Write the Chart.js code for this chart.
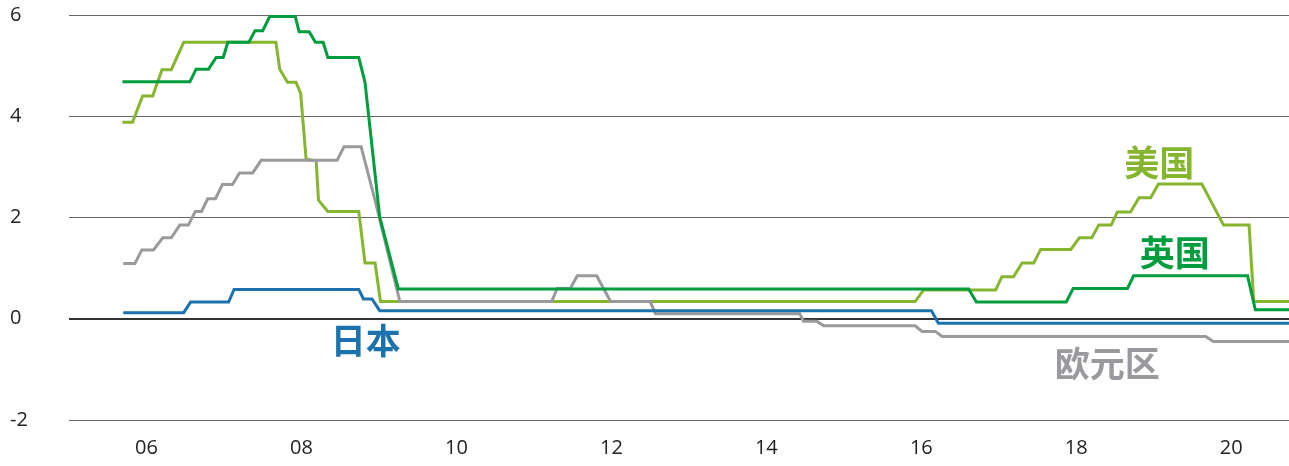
<!DOCTYPE html>
<html>
<head>
<meta charset="utf-8">
<script src="https://cdn.jsdelivr.net/npm/chart.js@4.4.1/dist/chart.umd.min.js"></script>
<style>
  html, body { margin: 0; padding: 0; background: #fff; }
  #wrap { width: 1289px; height: 466px; }
</style>
</head>
<body>
<div id="wrap"><canvas id="chart"></canvas></div>
<script>
// policy rates, % (vertices, decimal years)
const usYears = [2005.69, 2005.82, 2005.95, 2006.08, 2006.20, 2006.32, 2006.48, 2007.67, 2007.72, 2007.82, 2007.93, 2007.99, 2008.06, 2008.19, 2008.22, 2008.34, 2008.74, 2008.82, 2008.95, 2009.02, 2015.92, 2016.03, 2016.96, 2017.04, 2017.19, 2017.30, 2017.45, 2017.54, 2017.93, 2018.04, 2018.20, 2018.29, 2018.45, 2018.53, 2018.70, 2018.81, 2018.96, 2019.06, 2019.62, 2019.90, 2020.23, 2020.29, 2020.75];
const usRates = [3.88, 3.88, 4.40, 4.40, 4.92, 4.92, 5.46, 5.46, 4.93, 4.67, 4.67, 4.45, 3.15, 3.12, 2.34, 2.12, 2.12, 1.10, 1.10, 0.34, 0.34, 0.57, 0.57, 0.83, 0.83, 1.10, 1.10, 1.37, 1.37, 1.60, 1.60, 1.85, 1.85, 2.11, 2.11, 2.39, 2.39, 2.66, 2.66, 1.85, 1.85, 0.34, 0.34];

const ukYears = [2005.69, 2006.56, 2006.64, 2006.80, 2006.90, 2006.99, 2007.05, 2007.32, 2007.40, 2007.50, 2007.59, 2007.92, 2007.97, 2008.10, 2008.18, 2008.28, 2008.34, 2008.74, 2008.82, 2009.01, 2009.25, 2016.61, 2016.71, 2017.87, 2017.96, 2018.66, 2018.74, 2020.21, 2020.31, 2020.75];
const ukRates = [4.68, 4.68, 4.93, 4.93, 5.16, 5.16, 5.46, 5.46, 5.69, 5.69, 5.97, 5.97, 5.67, 5.67, 5.46, 5.46, 5.16, 5.16, 4.67, 2.01, 0.59, 0.59, 0.33, 0.33, 0.60, 0.60, 0.85, 0.85, 0.18, 0.18];

const euYears = [2005.70, 2005.85, 2005.94, 2006.09, 2006.21, 2006.32, 2006.43, 2006.54, 2006.63, 2006.71, 2006.79, 2006.89, 2006.98, 2007.11, 2007.20, 2007.37, 2007.48, 2008.46, 2008.55, 2008.77, 2008.95, 2009.27, 2011.23, 2011.30, 2011.47, 2011.56, 2011.81, 2011.99, 2012.50, 2012.57, 2014.43, 2014.48, 2014.65, 2014.74, 2015.92, 2016.01, 2016.18, 2016.27, 2019.67, 2019.77, 2020.75];
const euRates = [1.09, 1.09, 1.36, 1.36, 1.60, 1.60, 1.85, 1.85, 2.12, 2.12, 2.37, 2.37, 2.65, 2.65, 2.88, 2.88, 3.13, 3.13, 3.40, 3.40, 2.34, 0.34, 0.34, 0.60, 0.60, 0.85, 0.85, 0.34, 0.34, 0.10, 0.10, -0.05, -0.05, -0.14, -0.14, -0.25, -0.25, -0.35, -0.35, -0.45, -0.45];

const jpYears = [2005.70, 2006.48, 2006.57, 2007.06, 2007.13, 2008.74, 2008.80, 2008.91, 2009.01, 2016.13, 2016.22, 2020.75];
const jpRates = [0.12, 0.12, 0.33, 0.33, 0.58, 0.58, 0.39, 0.39, 0.16, 0.16, -0.09, -0.09];

const yearTicks = [2006, 2008, 2010, 2012, 2014, 2016, 2018, 2020];

// series names and where their names sit (year, value)
const seriesNames = ['美国', '英国', '日本', '欧元区'];
const nameYears = [2019.07, 2019.27, 2008.83, 2018.40];
const nameValues = [3.09, 1.30, -0.43, -0.89];

const colUS = '#86b52f';
const colUK = '#009d3f';
const colJP = '#1b72ad';
const colEU = '#9a9a9e';
const nameColors = [colUS, colUK, colJP, colEU];

const toPoints = (xs, ys) => xs.map((x, i) => ({ x: x, y: ys[i] }));

const nameLabels = {
  id: 'nameLabels',
  afterDatasetsDraw(chart) {
    const ctx = chart.ctx;
    const x = chart.scales.x, y = chart.scales.y;
    ctx.save();
    ctx.font = 'bold 35px "Noto Sans CJK SC"';
    ctx.textAlign = 'center';
    ctx.textBaseline = 'middle';
    seriesNames.forEach((t, i) => {
      ctx.fillStyle = nameColors[i];
      ctx.fillText(t, x.getPixelForValue(nameYears[i]), y.getPixelForValue(nameValues[i]));
    });
    ctx.restore();
  }
};

const line = (label, xs, ys, color, order) => ({
  label: label,
  data: toPoints(xs, ys),
  borderColor: color,
  backgroundColor: color,
  borderWidth: 3,
  pointRadius: 0,
  tension: 0,
  fill: false,
  order: order
});

new Chart(document.getElementById('chart'), {
  type: 'line',
  data: {
    datasets: [
      line('美国', usYears, usRates, colUS, 3),
      line('英国', ukYears, ukRates, colUK, 1),
      line('日本', jpYears, jpRates, colJP, 0),
      line('欧元区', euYears, euRates, colEU, 2)
    ]
  },
  plugins: [nameLabels],
  options: {
    responsive: true,
    maintainAspectRatio: false,
    animation: false,
    layout: { padding: { left: 10, top: 14, right: 0, bottom: 0 } },
    plugins: {
      legend: { display: false },
      tooltip: { enabled: false }
    },
    scales: {
      x: {
        type: 'linear',
        min: 2005,
        max: 2020.745,
        grid: { display: false },
        border: { display: false },
        afterBuildTicks: s => { s.ticks = yearTicks.map(v => ({ value: v })); },
        afterFit: s => { s.height = 46; },
        ticks: {
          padding: 8,
          color: '#222',
          font: { family: '"Open Sans"', size: 20 },
          maxRotation: 0,
          callback: v => String(v).slice(2)
        }
      },
      y: {
        min: -2,
        max: 6,
        border: { display: false },
        afterFit: s => { s.width = 59; },
        grid: {
          drawTicks: false,
          color: c => c.tick && c.tick.value === 0 ? '#333' : '#666',
          lineWidth: c => c.tick && c.tick.value === 0 ? 2 : 1
        },
        ticks: {
          stepSize: 2,
          crossAlign: 'far',
          color: '#222',
          font: { family: '"Open Sans"', size: 20 }
        }
      }
    }
  }
});
</script>
</body>
</html>
